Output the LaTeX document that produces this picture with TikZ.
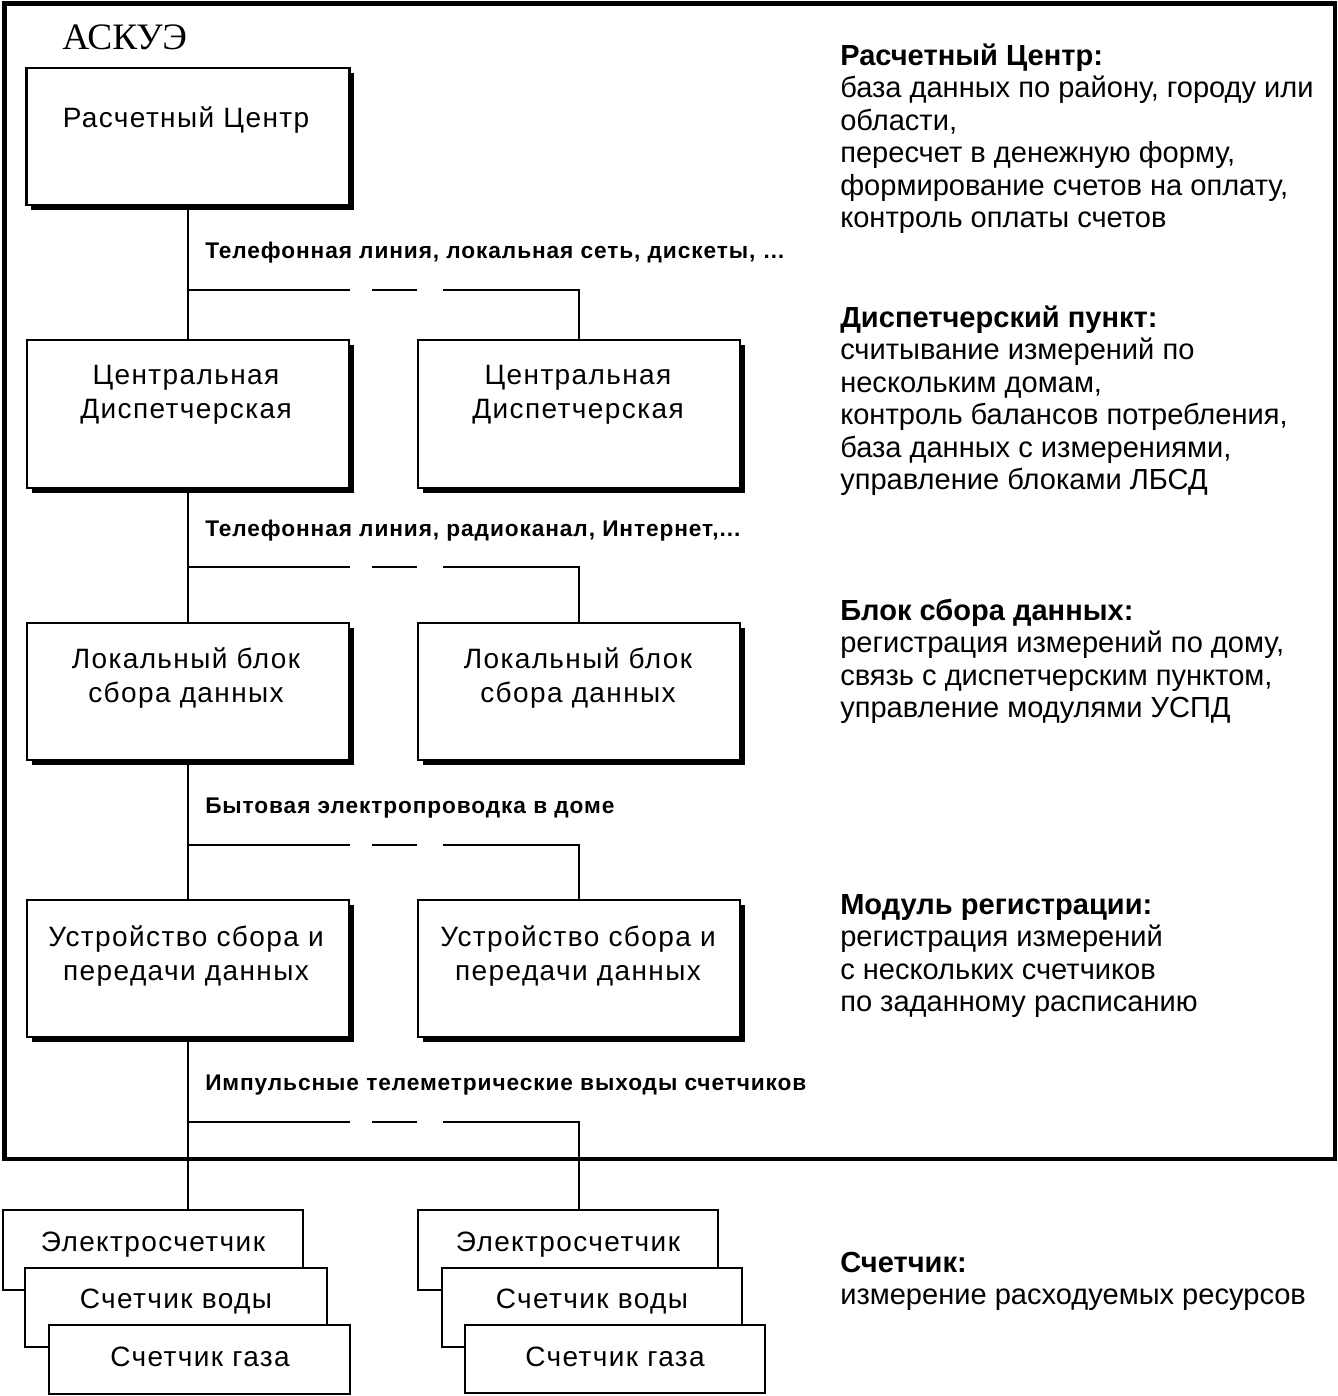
\documentclass[tikz,border=0pt]{standalone}
\usepackage{fontspec}
\setmainfont{Liberation Sans}
\newfontfamily\boxfont[LetterSpace=5]{Liberation Sans}
\newfontfamily\labfont[LetterSpace=4]{Liberation Sans}
\newfontfamily\serfont{Liberation Serif}
\usetikzlibrary{shadows}
\pgfdeclareverticalshading{boxshade}{100bp}{color(0bp)=(black!18); color(14bp)=(white); color(86bp)=(white); color(100bp)=(black!14)}
\newcommand\rblock[4]{%
  \node[rhead] (#1h) at (840,#2) {#3};
  \foreach \t [count=\i] in {#4} \node[rtext] (#1l\i) at (840,#2+32.5*\i) {\t};
}
\newcommand\branch[3]{%
  \coordinate (#2j) at (#2.north |- 0,#1);
  \coordinate (#2d1) at (372,#1);
  \coordinate (#2d2) at (417,#1);
  \coordinate (#2r) at (443,#1);
  \draw[conn] (#2j) -- ++(162,0);
  \draw[conn] (#2d1) -- (#2d2);
  \draw[conn] (#2r) -| (#3.north);
}
\begin{document}
\begin{tikzpicture}[x=0.75pt,y=-0.75pt,
  box/.style={draw, line width=1.7pt, shading=boxshade, inner sep=0pt,
    drop shadow={fill=black, opacity=1, shadow xshift=3.6pt, shadow yshift=-3.6pt}},
  meter/.style={draw, line width=1.7pt, shading=boxshade, inner sep=0pt},
  btext/.style={anchor=base, inner sep=0pt, font=\boxfont\fontsize{21pt}{25pt}\selectfont},
  lab/.style={anchor=base west, inner sep=0pt, font=\labfont\bfseries\fontsize{17pt}{20pt}\selectfont},
  rtext/.style={anchor=base west, inner sep=0pt, font=\fontsize{21.8pt}{25pt}\selectfont},
  rhead/.style={rtext, font=\bfseries\fontsize{21.8pt}{25pt}\selectfont},
  conn/.style={line width=2.1pt}]
\useasboundingbox (0,0) rectangle (1338,1396);
% outer frame
\draw[line width=3.6pt] (4.5,3.5) rectangle (1335,1159);
\node[anchor=base west, inner sep=0pt, font=\serfont\fontsize{28pt}{31pt}\selectfont] (title) at (62,49) {АСКУЭ};

% boxes
\node[box, minimum width=242.25pt, minimum height=102.75pt] (rc) at (188,136.5) {};
\node[box, minimum width=241.5pt, minimum height=111pt] (cd1) at (188,414) {};
\node[box, minimum width=241.5pt, minimum height=111pt] (cd2) at (579,414) {};
\node[box, minimum width=241.5pt, minimum height=102.75pt] (lb1) at (188,691.5) {};
\node[box, minimum width=241.5pt, minimum height=102.75pt] (lb2) at (579,691.5) {};
\node[box, minimum width=241.5pt, minimum height=102.75pt] (us1) at (188,968.5) {};
\node[box, minimum width=241.5pt, minimum height=102.75pt] (us2) at (579,968.5) {};

\node[btext] (rct) at (186,127) {Расчетный Центр};
\node[btext] (cd1a) at (186,384) {Центральная};
\node[btext] (cd1b) at (186,418) {Диспетчерская};
\node[btext] (cd2a) at (578,384) {Центральная};
\node[btext] (cd2b) at (578,418) {Диспетчерская};
\node[btext] (lb1a) at (186,668) {Локальный блок};
\node[btext] (lb1b) at (186,702) {сбора данных};
\node[btext] (lb2a) at (578,668) {Локальный блок};
\node[btext] (lb2b) at (578,702) {сбора данных};
\node[btext] (us1a) at (186,946) {Устройство сбора и};
\node[btext] (us1b) at (186,980) {передачи данных};
\node[btext] (us2a) at (578,946) {Устройство сбора и};
\node[btext] (us2b) at (578,980) {передачи данных};

% connectors
\draw[conn] (rc.south) -- (cd1.north);
\draw[conn] (cd1.south) -- (lb1.north);
\draw[conn] (lb1.south) -- (us1.north);
\branch{290}{cd1}{cd2}
\branch{567}{lb1}{lb2}
\branch{845}{us1}{us2}

% labels
\node[lab] (l1) at (205,258) {Телефонная линия, локальная сеть, дискеты, …};
\node[lab] (l2) at (205,536) {Телефонная линия, радиоканал, Интернет,...};
\node[lab] (l3) at (205,813) {Бытовая электропроводка в доме};
\node[lab] (l4) at (205,1090) {Импульсные телеметрические выходы счетчиков};

% meters
\node[meter, minimum width=225pt, minimum height=60pt] (m1a) at (153,1250) {};
\node[btext] (m1at) at (153,1251) {Электросчетчик};
\node[meter, minimum width=226.5pt, minimum height=59.25pt] (m1b) at (176,1307.5) {};
\node[btext] (m1bt) at (176,1308) {Счетчик воды};
\node[meter, minimum width=225.75pt, minimum height=51.75pt] (m1c) at (199.5,1359.5) {};
\node[btext] (m1ct) at (200,1366) {Счетчик газа};

\node[meter, minimum width=225pt, minimum height=60pt] (m2a) at (568,1250) {};
\node[btext] (m2at) at (568,1251) {Электросчетчик};
\node[meter, minimum width=225pt, minimum height=59.25pt] (m2b) at (592,1307.5) {};
\node[btext] (m2bt) at (592,1308) {Счетчик воды};
\node[meter, minimum width=225pt, minimum height=51pt] (m2c) at (615,1359) {};
\node[btext] (m2ct) at (615,1366) {Счетчик газа};

\coordinate (t1) at (us1.south |- 0,1122);
\draw[conn] (us1.south) -- (us1.south |- m1a.north);
\coordinate (t1d1) at (372,1122);
\coordinate (t1d2) at (417,1122);
\coordinate (t1r) at (443,1122);
\draw[conn] (t1) -- ++(162,0);
\draw[conn] (t1d1) -- (t1d2);
\draw[conn] (t1r) -| (t1r -| us2.south) -- (us2.south |- m2a.north);

% right descriptions
\rblock{b1}{65}{Расчетный Центр:}{{база данных по району, городу или},{области,},{пересчет в денежную форму,},{формирование счетов на оплату,},{контроль оплаты счетов}}
\rblock{b2}{327}{Диспетчерский пункт:}{{считывание измерений по},{нескольким домам,},{контроль балансов потребления,},{база данных с измерениями,},{управление блоками ЛБСД}}
\rblock{b3}{620}{Блок сбора данных:}{{регистрация измерений по дому,},{связь с диспетчерским пунктом,},{управление модулями УСПД}}
\rblock{b4}{914}{Модуль регистрации:}{{регистрация измерений},{с нескольких счетчиков},{по заданному расписанию}}
\rblock{b5}{1272}{Счетчик:}{{измерение расходуемых ресурсов}}
\end{tikzpicture}
\end{document}
